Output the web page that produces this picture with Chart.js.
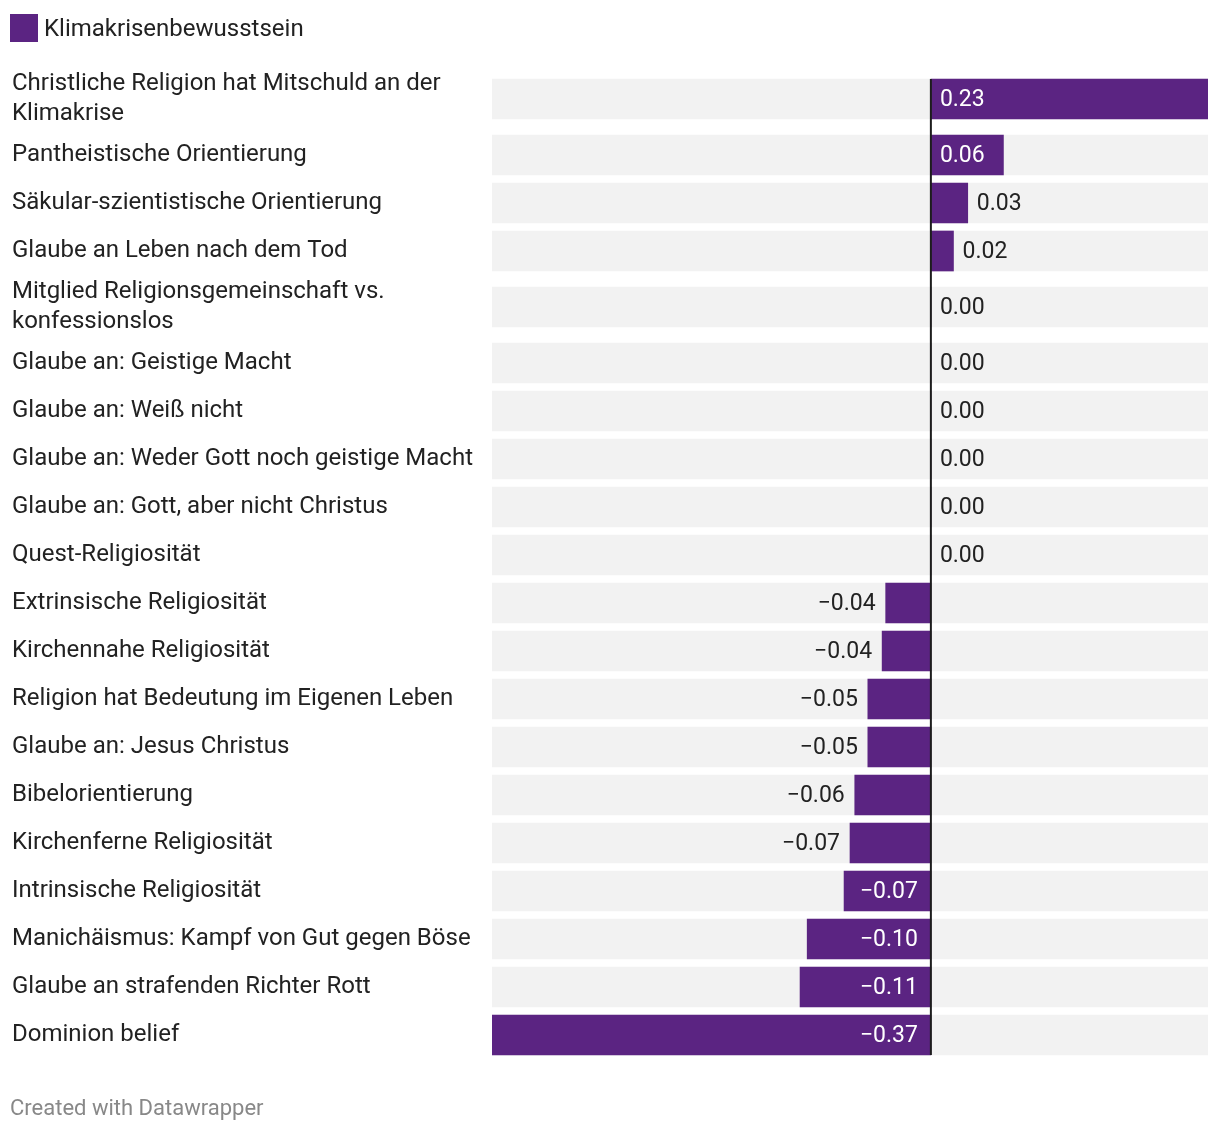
<!DOCTYPE html>
<html lang="de">
<head>
<meta charset="utf-8">
<title>Klimakrisenbewusstsein</title>
<script src="https://cdn.jsdelivr.net/npm/chart.js@4/dist/chart.umd.min.js"></script>
<style>
    body { margin: 0; background: #fff; font-family: Roboto, sans-serif; }
    #wrap { position: relative; width: 1220px; height: 1132px; }
    #chart { position: absolute; left: 0; top: 0; }
    .legend { position: absolute; left: 10px; top: 14px; height: 28px; display: flex; align-items: center; font-size: 24px; color: #222; }
    .legend .swatch { width: 28px; height: 28px; background: #5b2482; margin-right: 6px; }
    .footer { position: absolute; left: 10px; top: 1095px; font-size: 22px; color: #888; }
</style>
</head>
<body>
<div id="wrap">
    <canvas id="chart" width="1220" height="1132"></canvas>
    <div class="legend"><span class="swatch"></span><span id="legend-text"></span></div>
    <div class="footer">Created with Datawrapper</div>
</div>
<script>
// Data
const seriesName = 'Klimakrisenbewusstsein';

const categories = [
    ['Christliche Religion hat Mitschuld an der', 'Klimakrise'],
    'Pantheistische Orientierung',
    'Säkular-szientistische Orientierung',
    'Glaube an Leben nach dem Tod',
    ['Mitglied Religionsgemeinschaft vs.', 'konfessionslos'],
    'Glaube an: Geistige Macht',
    'Glaube an: Weiß nicht',
    'Glaube an: Weder Gott noch geistige Macht',
    'Glaube an: Gott, aber nicht Christus',
    'Quest-Religiosität',
    'Extrinsische Religiosität',
    'Kirchennahe Religiosität',
    'Religion hat Bedeutung im Eigenen Leben',
    'Glaube an: Jesus Christus',
    'Bibelorientierung',
    'Kirchenferne Religiosität',
    'Intrinsische Religiosität',
    'Manichäismus: Kampf von Gut gegen Böse',
    'Glaube an strafenden Richter Rott',
    'Dominion belief'
];

const values = [
    0.233, 0.061, 0.031, 0.019, 0.0,
    0.0, 0.0, 0.0, 0.0, 0.0,
    -0.038, -0.041, -0.053, -0.053, -0.064,
    -0.068, -0.073, -0.104, -0.110, -0.369
];

// Layout / style settings
const PURPLE = '#5b2482';
const BG_GREY = '#f2f2f2';
const TEXT = '#222';
const FONT = 'Roboto';
const LABEL_SIZE = 24;
const VALUE_SIZE = 23;
const ROW = 48;          // height of a one-line row
const EXTRA_LINE = 16;   // extra height for each wrapped label line

function lineCount(label) {
    return Array.isArray(label) ? label.length : 1;
}

// row centres follow the number of label lines
function rowCenters(labels) {
    let pos = 0;
    return labels.map(label => {
        const h = ROW + EXTRA_LINE * (lineCount(label) - 1);
        const c = pos + h / 2;
        pos += h;
        return c;
    });
}

const centers = rowCenters(categories);
const totalHeight = categories.reduce((sum, l) => sum + ROW + EXTRA_LINE * (lineCount(l) - 1), 0);
const xMin = Math.min(...values);
const xMax = Math.max(...values);

function formatValue(v) {
    const s = Math.abs(v).toFixed(2);
    return (v < 0 && s !== '0.00' ? '\u2212' : '') + s;
}

document.getElementById('legend-text').textContent = seriesName;

// Draws the zero line and the value labels
const barLabels = {
    id: 'barLabels',
    afterDatasetsDraw(chart) {
        const { ctx } = chart;
        const xScale = chart.scales.x;
        const meta = chart.getDatasetMeta(1);
        const zero = xScale.getPixelForValue(0);
        const first = meta.data[0];
        const last = meta.data[meta.data.length - 1];

        ctx.save();
        ctx.strokeStyle = '#1d1d1d';
        ctx.lineWidth = 2;
        ctx.beginPath();
        ctx.moveTo(zero, first.y - first.height / 2);
        ctx.lineTo(zero, last.y + last.height / 2);
        ctx.stroke();

        ctx.font = VALUE_SIZE + 'px ' + FONT;
        ctx.textBaseline = 'middle';
        meta.data.forEach((bar, i) => {
            const v = values[i];
            const text = formatValue(v);
            const textWidth = ctx.measureText(text).width;
            const barWidth = Math.abs(bar.x - bar.base);
            const inside = barWidth - textWidth >= 25;
            let x;
            if (v >= 0) {
                ctx.textAlign = 'left';
                x = inside ? zero + 9 : bar.x + 9;
            } else {
                ctx.textAlign = 'right';
                x = inside ? zero - 13 : bar.x - 10;
            }
            ctx.fillStyle = inside ? '#fff' : TEXT;
            ctx.fillText(text, x, bar.y + 1);
        });
        ctx.restore();
    }
};

const ctx = document.getElementById('chart').getContext('2d');
new Chart(ctx, {
    type: 'bar',
    data: {
        datasets: [
            {
                label: 'background',
                data: centers.map(c => ({ x: [xMin, xMax], y: c })),
                backgroundColor: BG_GREY,
                barThickness: 40,
                grouped: false,
                order: 2
            },
            {
                label: seriesName,
                data: values.map((v, i) => ({ x: v, y: centers[i] })),
                backgroundColor: PURPLE,
                barThickness: 40,
                grouped: false,
                order: 1
            }
        ]
    },
    options: {
        indexAxis: 'y',
        responsive: false,
        animation: false,
        devicePixelRatio: 1,
        layout: {
            padding: { left: 12, right: 12, top: 67, bottom: 73 }
        },
        plugins: {
            legend: { display: false },
            tooltip: { enabled: false }
        },
        scales: {
            x: {
                type: 'linear',
                min: xMin,
                max: xMax,
                display: false
            },
            y: {
                type: 'linear',
                min: 0,
                max: totalHeight,
                reverse: true,
                offset: false,
                grace: 0,
                grid: { display: false },
                border: { display: false },
                afterBuildTicks: scale => {
                    scale.ticks = centers.map(c => ({ value: c }));
                },
                afterFit: scale => {
                    scale.width = 480;
                    scale.paddingTop = 0;
                    scale.paddingBottom = 0;
                },
                ticks: {
                    autoSkip: false,
                    crossAlign: 'far',
                    padding: 0,
                    color: TEXT,
                    font: { family: FONT, size: LABEL_SIZE, lineHeight: 1.25 },
                    callback: (value, index) => categories[index]
                }
            }
        }
    },
    plugins: [barLabels]
});
</script>
</body>
</html>
